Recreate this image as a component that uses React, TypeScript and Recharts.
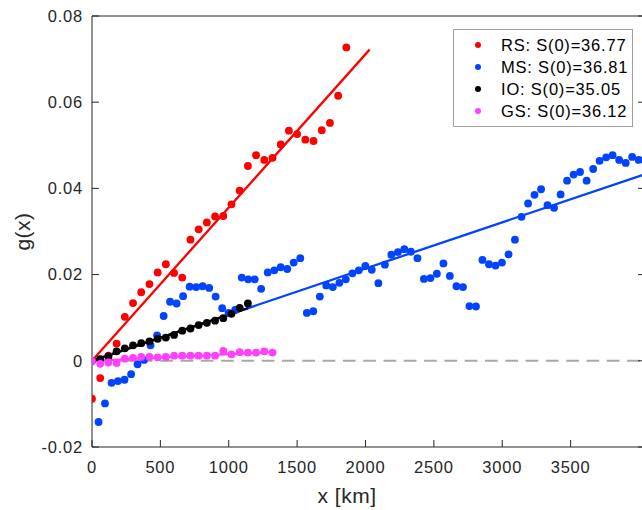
import { ComposedChart, Scatter, Line, XAxis, YAxis, ReferenceLine, Label } from 'recharts'

// RS: red sea section, 60 km spacing
const rsX = [0, 60, 120, 180, 240, 300, 360, 420, 480, 540, 600, 660, 720, 780, 840, 900, 960, 1020, 1080, 1140, 1200, 1260, 1320, 1380, 1440, 1500, 1560, 1620, 1680, 1740, 1800, 1860]
const rsY = [-0.0088, -0.004, 0.0012, 0.004, 0.0102, 0.0134, 0.0159, 0.0178, 0.0205, 0.0224, 0.0204, 0.0193, 0.0281, 0.0305, 0.0321, 0.0335, 0.0336, 0.0363, 0.0395, 0.0452, 0.0477, 0.0466, 0.0471, 0.0502, 0.0534, 0.0526, 0.0513, 0.051, 0.0535, 0.0552, 0.0615, 0.0727]

const msX = [
  0, 48, 95, 143, 190, 238, 286, 333, 381, 428,
  476, 524, 571, 619, 666, 714, 762, 809, 857, 904,
  952, 999, 1047, 1095, 1142, 1190, 1237, 1285, 1333, 1380,
  1428, 1475, 1523, 1571, 1618, 1666, 1713, 1761, 1809, 1856,
  1904, 1951, 1999, 2046, 2094, 2142, 2189, 2237, 2284, 2332,
  2380, 2427, 2475, 2522, 2570, 2617, 2665, 2713, 2760, 2808,
  2855, 2903, 2951, 2998, 3046, 3093, 3141, 3189, 3236, 3284,
  3331, 3379, 3427, 3474, 3522, 3569, 3617, 3665, 3712, 3760,
  3807, 3855, 3903, 3950, 3998,
]
const msY = [
  0, -0.0142, -0.0099, -0.0051, -0.0047, -0.0044, -0.0031, -0.0008, 0.0002, 0.0036,
  0.0059, 0.0104, 0.0137, 0.0133, 0.015, 0.0172, 0.0171, 0.0173, 0.0169, 0.0149,
  0.0122, 0.0111, 0.0118, 0.0193, 0.0189, 0.0189, 0.0167, 0.0205, 0.021, 0.0217,
  0.0213, 0.0228, 0.0238, 0.0111, 0.0115, 0.0149, 0.0175, 0.0171, 0.0181, 0.0189,
  0.0203, 0.021, 0.022, 0.0211, 0.018, 0.0223, 0.0246, 0.0252, 0.0259, 0.0253,
  0.0238, 0.019, 0.0192, 0.0202, 0.0226, 0.0197, 0.0173, 0.0171, 0.0127, 0.0126,
  0.0234, 0.0224, 0.0221, 0.0228, 0.0247, 0.0281, 0.0334, 0.0365, 0.0385, 0.0398,
  0.0361, 0.0355, 0.0386, 0.0418, 0.0432, 0.0438, 0.0418, 0.0445, 0.0464, 0.0472,
  0.0477, 0.0466, 0.0459, 0.0473, 0.0466,
]

const ioX = [0, 60, 120, 180, 240, 300, 360, 420, 480, 540, 600, 660, 720, 780, 840, 900, 960, 1020, 1080, 1140]
const ioY = [0, 0.0004, 0.001, 0.0022, 0.0029, 0.0036, 0.0041, 0.0045, 0.0051, 0.0054, 0.006, 0.007, 0.0075, 0.0083, 0.0088, 0.0093, 0.0099, 0.0109, 0.0123, 0.0133]

const gsX = [0, 60, 120, 180, 240, 300, 360, 420, 480, 540, 600, 660, 720, 780, 840, 900, 960, 1020, 1080, 1140, 1200, 1260, 1320]
const gsY = [0, -0.0007, -0.0004, -0.0005, 0.0005, 0.0007, 0.0009, 0.0009, 0.0008, 0.0009, 0.0012, 0.0012, 0.0012, 0.0012, 0.0012, 0.0012, 0.0023, 0.0015, 0.002, 0.0019, 0.0019, 0.0022, 0.0019]

// linear fits through the origin (end points)
const rsFitX = [0, 2030]
const rsFitY = [0, 0.0722]
const msFitX = [0, 4044]
const msFitY = [0, 0.0433]
const ioFitX = [0, 1140]
const ioFitY = [0, 0.0122]
const gsFitX = [0, 1320]
const gsFitY = [0, 0.002]

const seriesNames = ['RS', 'MS', 'IO', 'GS']
const s0Values = ['36.77', '36.81', '35.05', '36.12']
const colors = ['#ff0000', '#0044ff', '#000000', '#ff40ff']

const xTicks = [0, 500, 1000, 1500, 2000, 2500, 3000, 3500]
const yTicks = [-0.02, 0, 0.02, 0.04, 0.06, 0.08]

const toPoints = (xs: number[], ys: number[]) => xs.map((x, i) => ({ x, y: ys[i] }))

const series = [
  { points: toPoints(rsX, rsY), fit: toPoints(rsFitX, rsFitY) },
  { points: toPoints(msX, msY), fit: toPoints(msFitX, msFitY) },
  { points: toPoints(ioX, ioY), fit: toPoints(ioFitX, ioFitY) },
  { points: toPoints(gsX, gsY), fit: toPoints(gsFitX, gsFitY) },
].map((s, i) => ({ ...s, name: seriesNames[i], color: colors[i], s0: s0Values[i] }))

const FONT = '"Liberation Sans", Arial, Helvetica, sans-serif'
const AXIS = '#262626'
const tickStyle = { fontSize: 16.5, fill: AXIS, fontFamily: FONT, letterSpacing: 0.8 }

const fmtY = (v: number) => (v === 0 ? '0' : v.toFixed(2))

// eslint-disable-next-line @typescript-eslint/no-explicit-any
const YTitle = ({ viewBox }: any) => {
  const cx = viewBox.x + 22
  const cy = viewBox.y + viewBox.height / 2
  return (
    <text x={cx} y={cy} transform={`rotate(-90 ${cx} ${cy})`} textAnchor="middle" dominantBaseline="central"
      fill={AXIS} fontSize={21} fontFamily={FONT} letterSpacing={0.5}>
      g(x)
    </text>
  )
}

// eslint-disable-next-line @typescript-eslint/no-explicit-any
const XTitle = ({ viewBox }: any) => (
  <text x={viewBox.x + 255} y={viewBox.y + 56} textAnchor="middle" fill={AXIS} fontSize={21} fontFamily={FONT} letterSpacing={0.5}>
    x [km]
  </text>
)

export default function App() {
  return (
    <div style={{ position: 'absolute', left: 0, top: 0, width: 642, height: 510, overflow: 'hidden', background: '#fff' }}>
      <ComposedChart width={646} height={510} margin={{ top: 0, right: 0, bottom: 0, left: 0 }}>
        <XAxis dataKey="x" type="number" domain={[0, 4044]} ticks={xTicks} allowDataOverflow
          height={63} stroke={AXIS} tickSize={-7} tickMargin={21} tick={tickStyle}>
          <Label content={XTitle} />
        </XAxis>
        <XAxis xAxisId="top" orientation="top" type="number" domain={[0, 3750]} ticks={xTicks} allowDataOverflow
          height={16} stroke={AXIS} tickSize={-7} tickFormatter={() => ''} />
        <YAxis dataKey="y" type="number" domain={[-0.02, 0.08]} ticks={yTicks} allowDataOverflow
          width={92} stroke={AXIS} tickSize={-7} tickMargin={16} tick={tickStyle} tickFormatter={fmtY}>
          <Label content={YTitle} />
        </YAxis>
        <YAxis yAxisId="right" orientation="right" type="number" domain={[-0.02, 0.08]} ticks={yTicks} allowDataOverflow
          width={1} stroke={AXIS} tickSize={-7} tickFormatter={() => ''} />
        <ReferenceLine y={0} stroke="#a8a8a8" strokeWidth={2} strokeDasharray="12.7 7.6" strokeDashoffset={13} />
        {series.map((s) => (
          <Scatter key={s.name + '-pts'} name={s.name} data={s.points} dataKey="y" fill={s.color} isAnimationActive={false}
            // eslint-disable-next-line @typescript-eslint/no-explicit-any
            shape={(p: any) => <circle cx={p.cx} cy={p.cy} r={3.9} fill={s.color} />} />
        ))}
        {series.map((s) => (
          <Line key={s.name + '-fit'} data={s.fit} dataKey="y" stroke={s.color} strokeWidth={2.3} dot={false}
            activeDot={false} legendType="none" isAnimationActive={false} />
        ))}
      </ComposedChart>
      <div style={{
        position: 'absolute', left: 453, top: 29, width: 178, height: 96, border: '1px solid #a0a0a0',
        background: '#fff', fontFamily: FONT, fontSize: 16.5, letterSpacing: 0.8, color: '#000',
      }}>
        {series.map((s, i) => (
          <div key={s.name} style={{ position: 'absolute', left: 0, top: 4 + i * 22, height: 22, width: '100%', display: 'flex', alignItems: 'center' }}>
            <span style={{ position: 'absolute', left: 21, width: 6, height: 6, borderRadius: 3, background: s.color }} />
            <span style={{ position: 'absolute', left: 47, whiteSpace: 'nowrap' }}>{`${s.name}: S(0)=${s.s0}`}</span>
          </div>
        ))}
      </div>
    </div>
  )
}
